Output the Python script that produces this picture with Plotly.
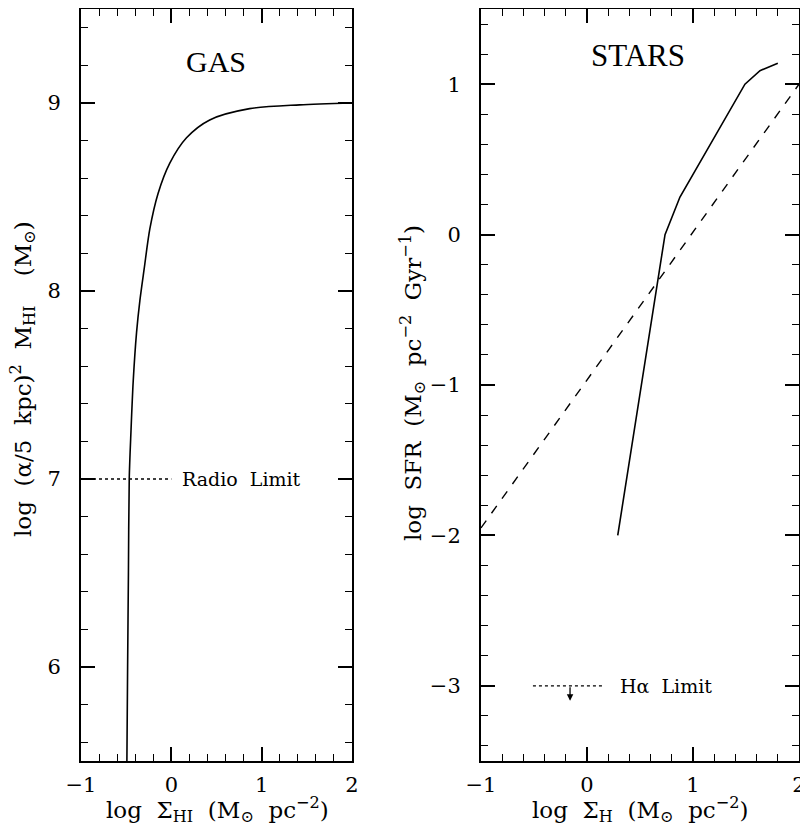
import plotly.graph_objects as go

# GAS panel: log (alpha/5 kpc)^2 M_HI vs log Sigma_HI
gas_x = [-0.492, -0.484, -0.475, -0.466, -0.447, -0.422, -0.385, -0.348, -0.30,
         -0.238, -0.146, -0.017, 0.168, 0.425, 0.867, 1.42, 2.0]
gas_y = [5.5, 6.0, 6.5, 7.0, 7.25, 7.52, 7.78, 7.95, 8.12,
         8.33, 8.52, 8.68, 8.815, 8.91, 8.97, 8.99, 9.0]
radio_limit_x = [-1.0, 0.0]
radio_limit_y = [7.0, 7.0]
radio_label_x = 0.1

# STARS panel: log SFR vs log Sigma_H
stars_x = [0.29, 0.736, 0.877, 1.16, 1.49, 1.632, 1.80]
stars_y = [-2.0, 0.0, 0.25, 0.594, 1.0, 1.09, 1.14]
dash_x = [-1.0, 2.0]
dash_y = [-1.95, 1.0]
ha_limit_x = [-0.51, 0.16]
ha_limit_y = [-3.0, -3.0]
ha_arrow_x = -0.16
ha_arrow_y = [-3.0, -3.1]
ha_label_x = 0.29

x_ticks = [-1, 0, 1, 2]
gas_y_ticks = [6, 7, 8, 9]
stars_y_ticks = [-3, -2, -1, 0, 1]

OFF = 8  # default page body margin
W, H = 808 - OFF, 838 - OFF
FONT = "DejaVu Serif"
TFONT = "Liberation Serif"
S = "\u00a0"

def px(x):
    return min(max((x - OFF) / W, 0.0), 1.0)

def py(y):
    return min(max(1 - (y - OFF) / H, 0.0), 1.0)

fig = go.Figure()
fig.add_trace(go.Scatter(x=gas_x, y=gas_y, mode="lines", line_shape="spline",
                         line=dict(color="black", width=1.6, smoothing=0.8), xaxis="x", yaxis="y"))
fig.add_trace(go.Scatter(x=radio_limit_x, y=radio_limit_y, mode="lines",
                         line=dict(color="black", width=1.3, dash="dot"), xaxis="x", yaxis="y"))
fig.add_trace(go.Scatter(x=stars_x, y=stars_y, mode="lines",
                         line=dict(color="black", width=1.6), xaxis="x2", yaxis="y2"))
fig.add_trace(go.Scatter(x=dash_x, y=dash_y, mode="lines",
                         line=dict(color="black", width=1.4, dash="dash"), xaxis="x2", yaxis="y2"))
fig.add_trace(go.Scatter(x=ha_limit_x, y=ha_limit_y, mode="lines",
                         line=dict(color="black", width=1.3, dash="dot"), xaxis="x2", yaxis="y2"))

axis_common = dict(
    showgrid=False, zeroline=False, showline=True, linecolor="black", linewidth=2,
    mirror="allticks", ticks="inside", ticklen=14, tickwidth=1.6, tickcolor="black",
    tickfont=dict(family=FONT, size=21, color="black"),
    minor=dict(dtick=0.2, ticks="inside", ticklen=7, tickwidth=1.4, tickcolor="black"),
    fixedrange=True, automargin=False,
)

y_top, y_bot = py(9), py(761)

fig.update_layout(
    width=W, height=H,
    margin=dict(l=0, r=0, t=0, b=0, autoexpand=False),
    paper_bgcolor="white", plot_bgcolor="white",
    showlegend=False,
    xaxis=dict(axis_common, domain=[px(81), px(352)], range=[-1, 2],
               tickvals=x_ticks, anchor="y", ticklabelstandoff=4),
    yaxis=dict(axis_common, domain=[y_bot, y_top], range=[5.5, 9.5],
               tickvals=gas_y_ticks, anchor="x", ticklabelstandoff=14),
    xaxis2=dict(axis_common, domain=[px(481), px(799)], range=[-1, 2],
                tickvals=x_ticks, anchor="y2", ticklabelstandoff=4),
    yaxis2=dict(axis_common, domain=[y_bot, y_top], range=[-3.5, 1.5],
                tickvals=stars_y_ticks, anchor="x2", ticklabelstandoff=14),
)

tfont = dict(family=FONT, size=23, color="black")
C = dict(xanchor="center", yanchor="middle", showarrow=False)
annotations = [
    dict(text="GAS", x=0.49, y=9.22, xref="x", yref="y", **C,
         font=dict(family=TFONT, size=30, color="black")),
    dict(text="STARS", x=0.48, y=1.19, xref="x2", yref="y2", **C,
         font=dict(family=TFONT, size=31, color="black")),
    dict(text="Radio" + S + " Limit", x=radio_label_x, y=radio_limit_y[0], xref="x", yref="y",
         xanchor="left", yanchor="middle", showarrow=False,
         font=dict(family=FONT, size=19, color="black")),
    dict(text="H\u03b1" + S + " Limit", x=ha_label_x, y=ha_limit_y[0], xref="x2", yref="y2",
         xanchor="left", yanchor="middle", showarrow=False,
         font=dict(family=FONT, size=19, color="black")),
    dict(text="", x=ha_arrow_x, y=ha_arrow_y[1], ax=ha_arrow_x, ay=ha_arrow_y[0],
         xref="x2", yref="y2", axref="x2", ayref="y2", showarrow=True,
         arrowhead=2, arrowsize=1, arrowwidth=1.3, arrowcolor="black"),
    dict(text="log" + S + " \u03a3<sub>HI</sub>" + S + " (M<sub>\u2299</sub>" + S
         + " pc<sup>\u22122</sup>)",
         x=px(217), y=py(809), xref="paper", yref="paper", **C, font=tfont),
    dict(text="log" + S + " \u03a3<sub>H</sub>" + S + " (M<sub>\u2299</sub>" + S
         + " pc<sup>\u22122</sup>)",
         x=px(640), y=py(809), xref="paper", yref="paper", **C, font=tfont),
    dict(text="log" + S + " (\u03b1/5" + S + " kpc)<sup>2</sup>" + S + " M<sub>HI</sub>"
         + S + S + S + " (M<sub>\u2299</sub>)",
         x=px(23), y=py(379), xref="paper", yref="paper", **C,
         textangle=-90, font=tfont),
    dict(text="log" + S + " SFR" + S + " (M<sub>\u2299</sub>" + S + " pc<sup>\u22122</sup>"
         + S + " Gyr<sup>\u22121</sup>)",
         x=px(412), y=py(383), xref="paper", yref="paper", **C,
         textangle=-90, font=tfont),
]
fig.update_layout(annotations=annotations)

fig.write_html("out.html")
